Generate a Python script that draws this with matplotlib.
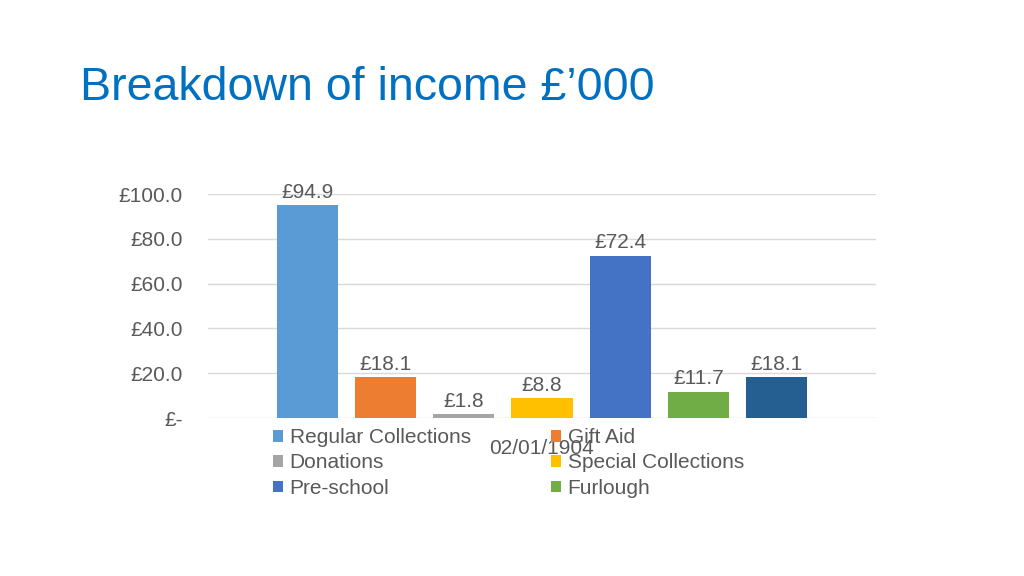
import numpy as np
import matplotlib.pyplot as plt
from matplotlib.patches import Patch

plt.rcParams['font.family'] = ['Liberation Sans', 'DejaVu Sans']

series = ['Regular Collections', 'Gift Aid', 'Donations', 'Special Collections',
          'Pre-school', 'Furlough', '']
values = [94.9, 18.1, 1.8, 8.8, 72.4, 11.7, 18.1]
colors = ['#5B9BD5', '#ED7D31', '#A5A5A5', '#FFC000', '#4472C4', '#70AD47', '#255E91']
category = '02/01/1904'
yticks = [0, 20, 40, 60, 80, 100]
ytick_labels = ['£-', '£20.0', '£40.0', '£60.0', '£80.0', '£100.0']

txt = '#595959'

fig = plt.figure(figsize=(10.24, 5.76), dpi=100)
fig.text(80/1024, 1 - 88/576, 'Breakdown of income £\u2019000', color='#0070C0',
         fontsize=33.5, va='center', ha='left')

ax = fig.add_axes([208/1024, 1 - 418/576, 668/1024, (418 - 194)/576])
x = np.arange(len(values))
bars = ax.bar(x, values, width=0.78, color=colors, zorder=3)
for xi, v in zip(x, values):
    ax.text(xi, v + 1.5, '£%.1f' % v, ha='center', va='bottom', fontsize=15, color=txt)

ax.set_xlim(3 - 4.265, 3 + 4.265)
ax.set_ylim(0, 100)
ax.set_yticks(yticks)
ax.set_yticklabels(ytick_labels)
ax.set_xticks([3])
ax.set_xticklabels([category])
ax.tick_params(axis='y', length=0, pad=18, labelsize=15, labelcolor=txt)
ax.tick_params(axis='x', length=0, pad=15, labelsize=15, labelcolor=txt)
ax.grid(axis='y', color='#D9D9D9', linewidth=1, zorder=0)
for s in ax.spines.values():
    s.set_visible(False)

# legend: column-first fill, so reorder to match reference rows
order = [0, 2, 4, 1, 3, 5]
handles = [Patch(facecolor=colors[i], edgecolor='none') for i in order]
labels = [series[i] for i in order]
fig.legend(handles, labels, ncol=2, loc='upper left',
           bbox_to_anchor=(273/1024, 1 - 428/576), frameon=False,
           fontsize=15, labelcolor=txt, handlelength=0.5, handleheight=0.5,
           handletextpad=0.3, columnspacing=3.85, labelspacing=0.31, borderpad=0,
           borderaxespad=0)

fig.savefig('out.png', dpi=100)
